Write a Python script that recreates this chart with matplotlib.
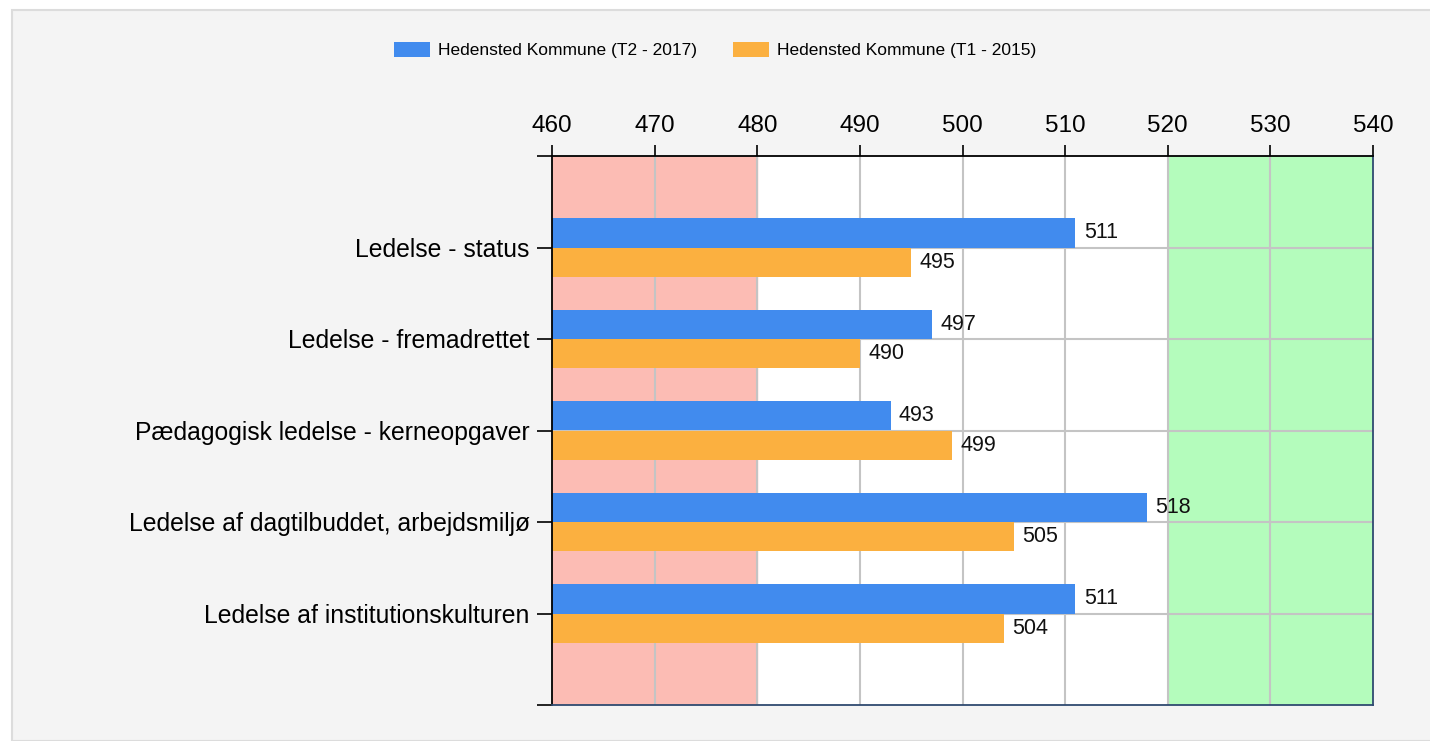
import matplotlib.pyplot as plt
import numpy as np
from matplotlib.patches import Rectangle, Patch

# data
categories = ['Ledelse - status',
              'Ledelse - fremadrettet',
              'Pædagogisk ledelse - kerneopgaver',
              'Ledelse af dagtilbuddet, arbejdsmiljø',
              'Ledelse af institutionskulturen']
t2_2017 = [511, 497, 493, 518, 511]
t1_2015 = [495, 490, 499, 505, 504]
series_labels = ['Hedensted Kommune (T2 - 2017)', 'Hedensted Kommune (T1 - 2015)']
x_ticks = [460, 470, 480, 490, 500, 510, 520, 530, 540]

blue = '#418bee'
orange = '#fbb040'

plt.rcParams['font.family'] = ['Liberation Sans', 'DejaVu Sans']

fig = plt.figure(figsize=(14.3, 7.41), dpi=100, facecolor='white')
# light grey panel behind the chart
fig.patches.append(Rectangle((12 / 1430, 0), 1.0, 1 - 10 / 741,
                             transform=fig.transFigure, facecolor='#f4f4f4',
                             edgecolor='#dcdcdc', linewidth=1.5, zorder=-10))

ax = fig.add_axes([552 / 1430, 1 - 705 / 741, (1373 - 552) / 1430, (705 - 156) / 741])
ax.set_facecolor('white')

pos = np.arange(1, len(categories) + 1)
h = 0.32

ax.axvspan(460, 480, color='#fcbcb4', zorder=0)
ax.axvspan(520, 540, color='#b4fcbc', zorder=0)

for x in x_ticks[1:-1]:
    ax.axvline(x, color='#c4c4c4', linewidth=1.5, zorder=1)
for y in pos:
    ax.axhline(y, color='#c4c4c4', linewidth=1.5, zorder=1)

ax.barh(pos - h / 2, np.array(t2_2017) - 460, left=460, height=h, color=blue, zorder=2)
ax.barh(pos + h / 2, np.array(t1_2015) - 460, left=460, height=h, color=orange, zorder=2)

for p, v in zip(pos, t2_2017):
    ax.annotate(str(v), (v, p - h / 2), xytext=(6, 0), textcoords='offset points',
                va='center', ha='left', fontsize=15.5, color='#111111', zorder=3)
for p, v in zip(pos, t1_2015):
    ax.annotate(str(v), (v, p + h / 2), xytext=(6, 0), textcoords='offset points',
                va='center', ha='left', fontsize=15.5, color='#111111', zorder=3)

ax.set_xlim(460, 540)
ax.set_ylim(6, 0)
ax.set_xticks(x_ticks)
ax.xaxis.tick_top()
ax.tick_params(axis='x', labelsize=17.5, length=8, width=1.2, pad=6, colors='black')
ax.set_yticks(range(0, 7))
ax.set_yticklabels([''] + categories + [''])
ax.tick_params(axis='y', labelsize=17.8, length=11, width=1.2, pad=5, colors='black')

for side in ['left', 'top']:
    ax.spines[side].set_color('black')
    ax.spines[side].set_linewidth(1.3)
for side in ['right', 'bottom']:
    ax.spines[side].set_color('#2f4a70')
    ax.spines[side].set_linewidth(1.3)

handles = [Patch(facecolor=blue, label=series_labels[0]),
           Patch(facecolor=orange, label=series_labels[1])]
fig.legend(handles=handles, loc='center', bbox_to_anchor=(715 / 1430, 1 - 50 / 741),
           ncol=2, frameon=False, fontsize=12.5, handlelength=2.07, handleheight=1.03,
           handletextpad=0.46, columnspacing=2.07)

fig.savefig('out.png', dpi=100, facecolor=fig.get_facecolor())
